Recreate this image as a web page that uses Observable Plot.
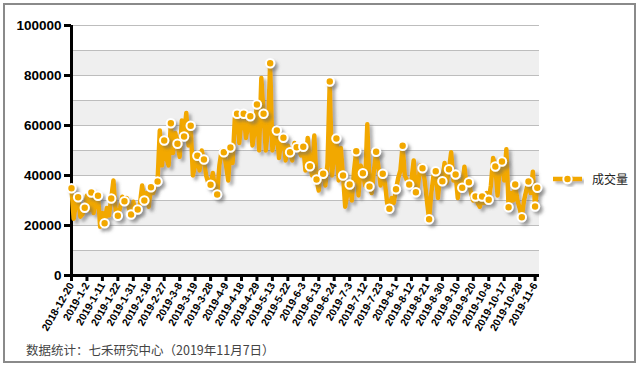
<!DOCTYPE html>
<html>
<head>
<meta charset="utf-8">
<script src="https://cdn.jsdelivr.net/npm/d3@7"></script>
<script src="https://cdn.jsdelivr.net/npm/@observablehq/plot@0.6"></script>
<style>
  html, body { margin: 0; padding: 0; background: #fff; }
  #wrap { position: relative; width: 641px; height: 367px; overflow: hidden; background: #fff; }
  #frame { position: absolute; left: 3px; top: 3px; width: 629px; height: 356px; border: 2px solid #8a8a8a; box-sizing: content-box; }
  #chart { position: absolute; left: 0; top: 0; }
  #legend { position: absolute; left: 552px; top: 170px; display: flex; align-items: center; font-family: "Noto Sans CJK SC", sans-serif; font-size: 12px; color: #222; }
  #legend span { margin-left: 8px; }
  #caption { position: absolute; left: 26px; top: 340px; font-family: "Noto Sans CJK SC", sans-serif; font-size: 12.5px; color: #444; white-space: nowrap; }
</style>
</head>
<body>
<div id="wrap">
  <div id="frame"></div>
  <div id="chart"></div>
  <div id="legend">
    <svg width="32" height="16">
      <defs>
        <filter id="lgShadow" x="-20%" y="-50%" width="150%" height="220%">
          <feDropShadow dx="2.5" dy="2.5" stdDeviation="1.2" flood-color="#777" flood-opacity="0.55"/>
        </filter>
      </defs>
      <g filter="url(#lgShadow)">
        <line x1="1" y1="8" x2="30" y2="8" stroke="#F2A800" stroke-width="4.5"/>
        <circle cx="15.5" cy="8" r="4.2" fill="#F2A800" stroke="#fff" stroke-width="2"/>
      </g>
    </svg>
    <span>成交量</span>
  </div>
  <div id="caption">数据统计：七禾研究中心（2019年11月7日）</div>
</div>
<script>
// Tick labels (every 7th trading day)
const tickLabels = ["2018-12-20","2019-1-2","2019-1-11","2019-1-22","2019-1-31","2019-2-18","2019-2-27","2019-3-8","2019-3-19","2019-3-28","2019-4-9","2019-4-18","2019-4-29","2019-5-13","2019-5-22","2019-6-3","2019-6-13","2019-6-24","2019-7-3","2019-7-12","2019-7-23","2019-8-1","2019-8-12","2019-8-21","2019-8-30","2019-9-10","2019-9-20","2019-10-8","2019-10-17","2019-10-28","2019-11-6"];
const tickStep = 7;

// Daily trading volume (成交量), 2018-12-20 .. 2019-11-7
const volume = [
  34900,22700,29000,31300,23500,24500,27100,32000,26000,33200,
  25000,30000,31900,19500,25000,20900,27000,24000,30800,38000,
  26000,23900,27000,31500,29700,31000,27000,24400,29500,25000,
  26400,28500,36000,30000,33000,27500,35300,33000,36000,37600,
  58000,44000,54000,47000,44000,60900,49000,57000,52700,47500,
  62000,55600,65000,52000,59900,40000,44000,47900,42000,50000,
  46400,40000,37000,36300,41000,35000,32400,44000,50000,49300,
  44000,38000,51200,45000,63000,64700,53000,62000,64700,55000,
  60000,63700,52000,58000,68400,50000,79000,64700,50000,58000,
  84900,50000,55000,58000,47000,54000,55100,46000,52000,49300,
  46000,53000,51300,50000,48000,51500,42000,55000,43700,40000,
  56000,38400,34000,42000,40700,36000,45000,77600,40000,48000,
  54800,38000,51000,40000,27500,33000,36400,30000,42000,49700,
  32000,44000,40900,36000,60500,35600,33000,42000,49500,44000,
  36000,40700,37000,29000,26700,31000,29000,34500,39000,42000,
  51900,40000,38000,36400,38000,46000,33300,36000,44000,42900,
  38000,30000,22500,33000,40000,41700,31000,40000,37700,45000,
  37000,42500,49300,38000,40400,31000,38000,35100,43500,36000,
  37300,33000,30000,31600,29000,27500,31600,29000,33000,30300,
  36000,47000,43600,32000,44000,45600,38000,50500,27300,33000,
  30000,36400,30000,27000,23300,30000,34000,37600,33000,41500,
  27600,35100
];
const markerEvery = 3;
const yTicks = [0, 20000, 40000, 60000, 80000, 100000];
const gridValues = [10000,20000,30000,40000,50000,60000,70000,80000,90000,100000];
const bandStarts = [0, 20000, 40000, 60000, 80000];
const bandSize = 10000;

const ORANGE = "#F2A800";
const data = volume.map((v, i) => ({i, v}));
const last = volume.length - 1;
const markers = data.filter(d => d.i % markerEvery === 0 || d.i === last);
const bands = bandStarts.map(lo => ({lo, hi: lo + bandSize}));
const tickIdx = tickLabels.map((_, k) => k * tickStep);
const xMax = 212;

const chart = Plot.plot({
  width: 641,
  height: 367,
  marginLeft: 71,
  marginRight: 102,
  marginTop: 25,
  marginBottom: 92,
  x: {domain: [0, xMax], axis: null, label: null},
  y: {domain: [0, 100000], axis: null, label: null},
  style: {background: "transparent", fontFamily: "'Liberation Sans', Arial, sans-serif", color: "#000"},
  marks: [
    Plot.rect(bands, {x1: () => 0, x2: () => xMax, y1: "lo", y2: "hi", fill: "#efefef"}),
    Plot.ruleY(gridValues, {stroke: "#bdbdbd", strokeWidth: 1}),
    Plot.ruleY([0], {stroke: "#000", strokeWidth: 3}),
    Plot.ruleX([0], {stroke: "#000", strokeWidth: 3}),
    Plot.axisY({ticks: yTicks, label: null, tickFormat: d => String(d), tickSize: 7, tickPadding: 3, strokeWidth: 3, stroke: "#000", fontSize: 13.5, fontWeight: "bold", anchor: "left"}),
    Plot.axisX({ticks: tickIdx, label: null, tickFormat: i => tickLabels[i / tickStep], tickRotate: -60, tickSize: 6, tickPadding: 2, strokeWidth: 3, stroke: "#000", fontSize: 10.5, fontWeight: "bold", anchor: "bottom"}),
    Plot.line(data, {x: "i", y: "v", stroke: ORANGE, strokeWidth: 4.5, strokeLinejoin: "round", className: "shadowed"}),
    Plot.dot(markers, {x: "i", y: "v", r: 4.2, fill: ORANGE, stroke: "#fff", strokeWidth: 2, className: "shadowed"})
  ]
});

// drop shadow for line and markers
const svg = d3.select(chart);
const defs = svg.insert("defs", ":first-child");
const f = defs.append("filter").attr("id", "dropShadow").attr("x", "-5%").attr("y", "-5%").attr("width", "115%").attr("height", "115%");
f.append("feDropShadow").attr("dx", 3).attr("dy", 3).attr("stdDeviation", 1.5).attr("flood-color", "#666").attr("flood-opacity", 0.5);
svg.selectAll(".shadowed").attr("filter", "url(#dropShadow)");

document.getElementById("chart").appendChild(chart);
</script>
</body>
</html>
